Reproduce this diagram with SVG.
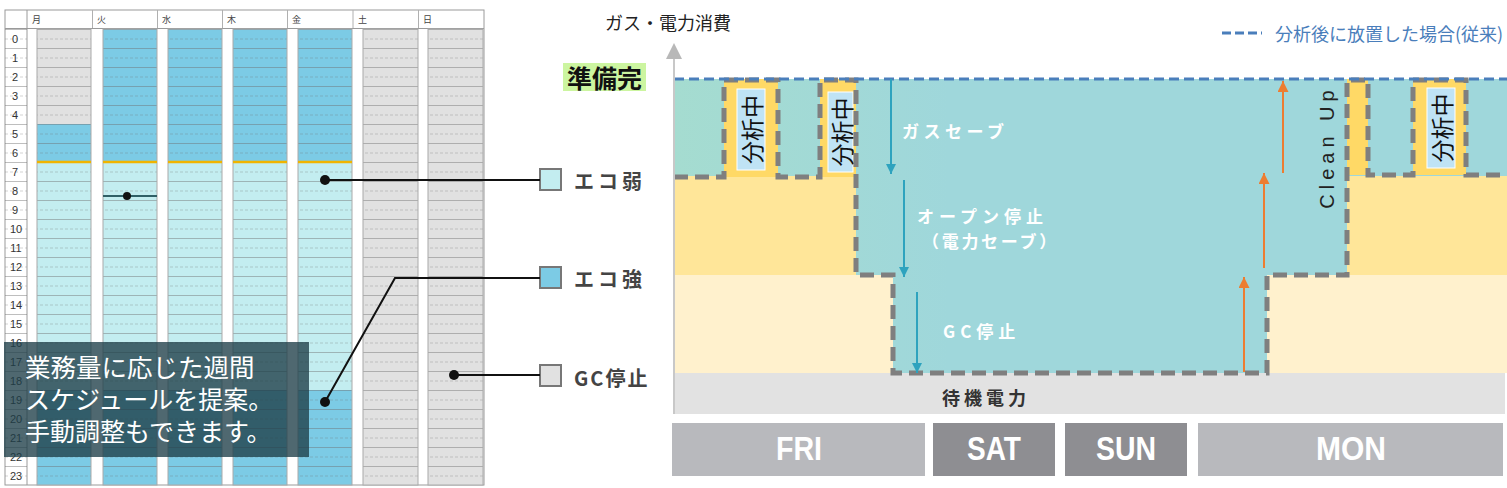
<svg xmlns="http://www.w3.org/2000/svg" width="1507" height="488" viewBox="0 0 1507 488">
<style>
.jp{font-family:"Noto Sans CJK JP","Noto Sans",sans-serif}
.rn{font-family:"Liberation Sans",sans-serif;font-size:11px;fill:#333;text-anchor:middle;dominant-baseline:central}
.hd{font-family:"Noto Sans CJK JP",sans-serif;font-size:9px;fill:#444;dominant-baseline:central}
.blue{fill:#7ccbe5}
.cyan{fill:#c3edf0}
.grey{fill:#e1e1e1}
.bar{fill:url(#rows);stroke:#aaaaaa;stroke-width:1}
.conn{stroke:#111;stroke-width:2;fill:none}
.lg{font-size:20px;font-weight:bold;fill:#444;letter-spacing:4px;dominant-baseline:central}
.sq{stroke:#777;stroke-width:2}
.wt{font-size:17px;font-weight:bold;fill:#fff;dominant-baseline:central}
.anl{fill:#ffd966}
.lab{fill:#bfe3f5;stroke:#fff;stroke-width:1}
.labt{font-size:23px;fill:#111;text-anchor:middle;dominant-baseline:central}
.day{font-family:"Liberation Sans",sans-serif;font-size:34px;font-weight:bold;fill:#fff;text-anchor:middle;dominant-baseline:central}
</style>
<defs>
<pattern id="rows" patternUnits="userSpaceOnUse" x="0" y="29" width="10" height="19">
<line x1="0" y1="0.5" x2="10" y2="0.5" stroke="#6e6e6e" stroke-opacity="0.45" stroke-width="1"/>
<line x1="0" y1="10" x2="10" y2="10" stroke="#6e6e6e" stroke-opacity="0.3" stroke-width="1" stroke-dasharray="3 2"/>
</pattern>
<linearGradient id="teal" gradientUnits="userSpaceOnUse" x1="674" y1="0" x2="950" y2="0">
<stop offset="0" stop-color="#a5dcd0"/>
<stop offset="1" stop-color="#9fd7db"/>
</linearGradient>
<marker id="ah-teal" viewBox="0 0 10 10" refX="10" refY="5" markerWidth="10" markerHeight="12" orient="auto" markerUnits="userSpaceOnUse">
<path d="M0,0 L10,5 L0,10 z" fill="#2ea3be"/>
</marker>
<marker id="ah-org" viewBox="0 0 10 10" refX="10" refY="5" markerWidth="11" markerHeight="11" orient="auto" markerUnits="userSpaceOnUse">
<path d="M0,0 L10,5 L0,10 z" fill="#ed7d31"/>
</marker>
</defs>

<!-- ===== Left: weekly schedule table ===== -->
<g id="schedule-table">
<rect x="5" y="10" width="479" height="475" fill="#fff" stroke="#9a9a9a" stroke-width="1"/>
<line x1="5" y1="28.5" x2="484" y2="28.5" stroke="#9a9a9a"/>
<line x1="27" y1="10" x2="27" y2="485" stroke="#9a9a9a"/>
<g stroke="#b0b0b0" stroke-width="1">
<line x1="92.5" y1="10" x2="92.5" y2="28"/>
<line x1="157.5" y1="10" x2="157.5" y2="28"/>
<line x1="222.5" y1="10" x2="222.5" y2="28"/>
<line x1="287.5" y1="10" x2="287.5" y2="28"/>
<line x1="353" y1="10" x2="353" y2="28"/>
<line x1="418.5" y1="10" x2="418.5" y2="28"/>
</g>
<text class="hd" x="32" y="19">月</text>
<text class="hd" x="97" y="19">火</text>
<text class="hd" x="162" y="19">水</text>
<text class="hd" x="227" y="19">木</text>
<text class="hd" x="292" y="19">金</text>
<text class="hd" x="358" y="19">土</text>
<text class="hd" x="423" y="19">日</text>
<rect x="5" y="29" width="22" height="456" fill="url(#rows)"/>
<text class="rn" x="15" y="38.5">0</text>
<text class="rn" x="15" y="57.5">1</text>
<text class="rn" x="15" y="76.5">2</text>
<text class="rn" x="15" y="95.5">3</text>
<text class="rn" x="15" y="114.5">4</text>
<text class="rn" x="15" y="133.5">5</text>
<text class="rn" x="15" y="152.5">6</text>
<text class="rn" x="15" y="171.5">7</text>
<text class="rn" x="15" y="190.5">8</text>
<text class="rn" x="15" y="209.5">9</text>
<text class="rn" x="16" y="228.5">10</text>
<text class="rn" x="16" y="247.5">11</text>
<text class="rn" x="16" y="266.5">12</text>
<text class="rn" x="16" y="285.5">13</text>
<text class="rn" x="16" y="304.5">14</text>
<text class="rn" x="16" y="323.5">15</text>
<text class="rn" x="16" y="342.5">16</text>
<text class="rn" x="16" y="361.5">17</text>
<text class="rn" x="16" y="380.5">18</text>
<text class="rn" x="16" y="399.5">19</text>
<text class="rn" x="16" y="418.5">20</text>
<text class="rn" x="16" y="437.5">21</text>
<text class="rn" x="16" y="456.5">22</text>
<text class="rn" x="16" y="475.5">23</text>

<!-- Mon -->
<rect class="grey" x="37" y="29" width="54" height="95"/>
<rect class="blue" x="37" y="124" width="54" height="38"/>
<rect class="cyan" x="37" y="162" width="54" height="228"/>
<rect class="blue" x="37" y="390" width="54" height="95"/>
<rect class="bar" x="37" y="29" width="54" height="456"/>
<!-- Tue -->
<rect class="blue" x="103" y="29" width="54" height="456"/>
<rect class="cyan" x="103" y="162" width="54" height="228"/>
<rect class="bar" x="103" y="29" width="54" height="456"/>
<!-- Wed -->
<rect class="blue" x="168" y="29" width="54" height="456"/>
<rect class="cyan" x="168" y="162" width="54" height="228"/>
<rect class="bar" x="168" y="29" width="54" height="456"/>
<!-- Thu -->
<rect class="blue" x="233" y="29" width="54" height="456"/>
<rect class="cyan" x="233" y="162" width="54" height="228"/>
<rect class="bar" x="233" y="29" width="54" height="456"/>
<!-- Fri -->
<rect class="blue" x="298" y="29" width="54" height="456"/>
<rect class="cyan" x="298" y="162" width="54" height="228"/>
<rect class="bar" x="298" y="29" width="54" height="456"/>
<!-- Sat / Sun -->
<rect class="grey" x="363" y="29" width="55" height="456"/>
<rect class="bar" x="363" y="29" width="55" height="456"/>
<rect class="grey" x="428" y="29" width="55" height="456"/>
<rect class="bar" x="428" y="29" width="55" height="456"/>
<!-- start lines -->
<g stroke="#f0b400" stroke-width="2.5">
<line x1="37" y1="162" x2="91" y2="162"/>
<line x1="103" y1="162" x2="157" y2="162"/>
<line x1="168" y1="162" x2="222" y2="162"/>
<line x1="233" y1="162" x2="287" y2="162"/>
<line x1="298" y1="162" x2="352" y2="162"/>
</g>
<line x1="103" y1="196" x2="157" y2="196" stroke="#2f5f66" stroke-width="2"/>
<circle cx="127" cy="196" r="4" fill="#111"/>
</g>

<g id="note-box">
<rect x="4" y="342" width="305" height="115" fill="#1e3d48" fill-opacity="0.78"/>
<text class="jp" x="25" y="365" font-size="25.5" fill="#fff" dominant-baseline="central">業務量に応じた週間</text>
<text class="jp" x="25" y="398" font-size="25" fill="#fff" dominant-baseline="central">スケジュールを提案。</text>
<text class="jp" x="25" y="430" font-size="25" fill="#fff" dominant-baseline="central">手動調整もできます。</text>
</g>

<!-- ===== Legend ===== -->
<g id="legend-eco-weak">
<rect class="sq" x="540" y="169" width="21" height="21" fill="#c3edf0"/>
<text class="jp lg" x="574" y="180">エコ弱</text>
</g>
<g id="legend-eco-strong">
<rect class="sq" x="540" y="267" width="21" height="21" fill="#7ccbe5"/>
<text class="jp lg" x="574" y="278">エコ強</text>
</g>
<g id="legend-gc-stop">
<rect class="sq" x="540" y="365" width="21" height="21" fill="#e1e1e1"/>
<text class="jp lg" x="574" y="377" style="letter-spacing:2px">GC停止</text>
</g>

<g id="connectors">
<polyline class="conn" points="325,180 540,180"/>
<polyline class="conn" points="325,402 395,278 540,278"/>
<polyline class="conn" points="454,375 540,375"/>
<circle cx="325" cy="180" r="5" fill="#111"/>
<circle cx="325" cy="402" r="5" fill="#111"/>
<circle cx="454" cy="375" r="5" fill="#111"/>
</g>

<!-- ===== Right: consumption chart ===== -->
<g id="chart-bands">
<rect x="674" y="176" width="833" height="99" fill="#ffe699"/>
<rect x="674" y="275" width="833" height="98" fill="#fff1cd"/>
<rect x="674" y="373" width="831" height="41" fill="#e2e2e2"/>
<rect x="674" y="79" width="833" height="97" fill="url(#teal)"/>
<path d="M856,176 V275 H893 V373 H1267 V275 H1347 V176 Z" fill="url(#teal)"/>
<rect x="1368" y="79" width="139" height="96" fill="#9fd7db"/>
</g>

<g id="analysis-1">
<rect class="anl" x="724" y="79" width="54" height="98"/>
<rect class="lab" x="737" y="89" width="28" height="81"/>
<text class="jp labt" transform="translate(751,129.5) rotate(-90)">分析中</text>
</g>
<g id="analysis-2">
<rect class="anl" x="820" y="79" width="36" height="98"/>
<rect class="lab" x="828" y="92" width="25" height="80"/>
<text class="jp labt" transform="translate(840.5,132) rotate(-90)">分析中</text>
</g>
<g id="cleanup">
<rect class="anl" x="1347" y="79" width="21" height="96"/>
<text font-family="Liberation Sans,sans-serif" font-size="20" fill="#222" letter-spacing="5" text-anchor="middle" transform="translate(1334,147) rotate(-90)">Clean Up</text>
</g>
<g id="analysis-3">
<rect class="anl" x="1413" y="79" width="53" height="96"/>
<rect class="lab" x="1427" y="88" width="28" height="80"/>
<text class="jp labt" transform="translate(1441,128) rotate(-90)">分析中</text>
</g>

<g id="consumption-line">
<path d="M674,177 H724 V80 H778 V177 H820 V80 H856 V275 H893 V373 H1267 V275 H1347 V80 H1368 V175 H1413 V80 H1466 V175 H1507" fill="none" stroke="#7f7f7f" stroke-width="5" stroke-dasharray="14 7"/>
</g>
<g id="conventional-line">
<line x1="674" y1="79" x2="1507" y2="79" stroke="#4a7ebb" stroke-width="3" stroke-dasharray="10 5"/>
</g>

<g id="axis">
<line x1="674" y1="56" x2="674" y2="414" stroke="#c8c8c8" stroke-width="2"/>
<polygon points="674,43 666,59 682,59" fill="#b8b8b8"/>
<text class="jp" x="605" y="22" font-size="18" fill="#222" dominant-baseline="central">ガス・電力消費</text>
<rect x="563" y="63" width="83" height="28" fill="#ccf5a0"/>
<text class="jp" x="604.5" y="77" font-size="25" font-weight="bold" fill="#111" text-anchor="middle" dominant-baseline="central">準備完</text>
</g>

<g id="chart-legend">
<line x1="1222" y1="33" x2="1262" y2="33" stroke="#4a7ebb" stroke-width="3" stroke-dasharray="9 4"/>
<text class="jp" x="1275" y="33" font-size="18" fill="#4a7ebb" dominant-baseline="central">分析後に放置した場合(従来)</text>
</g>

<g id="step-arrows">
<line x1="891" y1="79" x2="891" y2="174" stroke="#2ea3be" stroke-width="2" marker-end="url(#ah-teal)"/>
<line x1="904" y1="180" x2="904" y2="277" stroke="#2ea3be" stroke-width="2" marker-end="url(#ah-teal)"/>
<line x1="917" y1="292" x2="917" y2="373" stroke="#2ea3be" stroke-width="2" marker-end="url(#ah-teal)"/>
<line x1="1244" y1="372" x2="1244" y2="277" stroke="#ed7d31" stroke-width="2" marker-end="url(#ah-org)"/>
<line x1="1264" y1="268" x2="1264" y2="173" stroke="#ed7d31" stroke-width="2" marker-end="url(#ah-org)"/>
<line x1="1283" y1="173" x2="1283" y2="81" stroke="#ed7d31" stroke-width="2" marker-end="url(#ah-org)"/>
</g>

<g id="step-labels">
<text class="jp wt" x="902" y="130" letter-spacing="4.5">ガスセーブ</text>
<text class="jp wt" x="917" y="215" letter-spacing="5">オープン停止</text>
<text class="jp wt" x="922" y="240" letter-spacing="2.7">（電力セーブ）</text>
<text class="jp wt" x="943" y="330" letter-spacing="5">GC停止</text>
<text class="jp" x="942" y="397" font-size="18" font-weight="bold" fill="#333" letter-spacing="4" dominant-baseline="central">待機電力</text>
</g>

<g id="days">
<rect x="672" y="423" width="253" height="53" fill="#b8b9bd"/>
<text class="day" x="799" y="448" textLength="46" lengthAdjust="spacingAndGlyphs">FRI</text>
<rect x="933" y="423" width="122" height="53" fill="#8e8e92"/>
<text class="day" x="994" y="448" textLength="54" lengthAdjust="spacingAndGlyphs">SAT</text>
<rect x="1065" y="423" width="122" height="53" fill="#8e8e92"/>
<text class="day" x="1126" y="448" textLength="60" lengthAdjust="spacingAndGlyphs">SUN</text>
<rect x="1198" y="423" width="305" height="53" fill="#b8b9bd"/>
<text class="day" x="1351" y="448" textLength="70" lengthAdjust="spacingAndGlyphs">MON</text>
</g>
</svg>
